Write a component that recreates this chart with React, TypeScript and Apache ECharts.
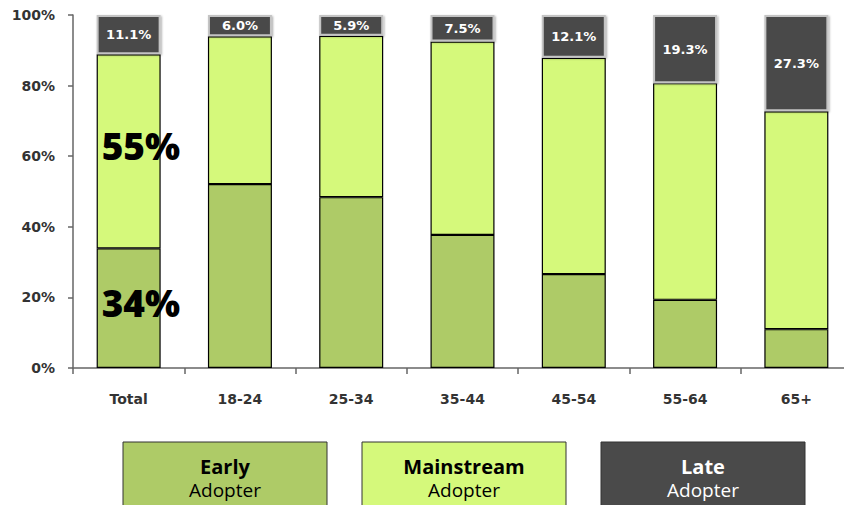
import React, { useEffect, useRef } from "react";
import * as echarts from "echarts";

const categories = ["Total", "18-24", "25-34", "35-44", "45-54", "55-64", "65+"];
const earlyValues = [33.9, 52.1, 48.4, 37.7, 26.6, 19.3, 11.0];
const mainstreamValues = [55.0, 41.9, 45.7, 54.8, 61.3, 61.4, 61.7];
const lateValues = [11.1, 6.0, 5.9, 7.5, 12.1, 19.3, 27.3];
const yTicks = [0, 20, 40, 60, 80, 100];
const legendItems = [
  { title: "Early", sub: "Adopter", color: "#AECB67", text: "#000" },
  { title: "Mainstream", sub: "Adopter", color: "#D5F97B", text: "#000" },
  { title: "Late", sub: "Adopter", color: "#4A4A4A", text: "#fff" },
];

export default function App() {
  const ref = useRef<HTMLDivElement>(null);
  useEffect(() => {
    if (!ref.current) return;
    const chart = echarts.init(ref.current, null, { renderer: "svg" });
    const bigLabel = {
      show: true,
      position: "insideLeft",
      offset: [0, -6],
      fontFamily: "Open Sans",
      fontWeight: 800,
      fontSize: 37,
      color: "#000",
      formatter: (p: any) => Math.round(p.value) + "%",
    };
    const legendGraphics = legendItems.map((it, i) => {
      const x = 123 + i * 239;
      return {
        type: "group",
        children: [
          {
            type: "rect",
            shape: { x, y: 442, width: 204, height: 90 },
            style: { fill: it.color, stroke: "#333", lineWidth: 1 },
          },
          {
            type: "text",
            x: x + 102,
            y: 466,
            style: {
              text: it.title,
              fill: it.text,
              font: "bold 20px 'Open Sans'",
              textAlign: "center",
              textVerticalAlign: "middle",
            },
          },
          {
            type: "text",
            x: x + 102,
            y: 490,
            style: {
              text: it.sub,
              fill: it.text,
              font: "19px 'Open Sans'",
              textAlign: "center",
              textVerticalAlign: "middle",
            },
          },
        ],
      };
    });
    chart.setOption({
      animation: false,
      backgroundColor: "#fff",
      grid: { left: 73, top: 15, width: 784, height: 353, containLabel: false },
      xAxis: {
        type: "category",
        data: categories,
        axisLine: { lineStyle: { color: "#666", width: 1.5 } },
        axisTick: { show: true, length: 6, lineStyle: { color: "#666", width: 1.5 } },
        axisLabel: {
          margin: 24,
          fontFamily: "DejaVu Sans",
          fontWeight: "bold",
          fontSize: 14,
          color: "#333",
        },
      },
      yAxis: {
        type: "value",
        min: yTicks[0],
        max: yTicks[yTicks.length - 1],
        interval: 20,
        splitLine: { show: false },
        axisLine: { show: true, lineStyle: { color: "#666", width: 1.5 } },
        axisTick: { show: true, length: 5, lineStyle: { color: "#666", width: 1.5 } },
        axisLabel: {
          margin: 18,
          formatter: "{value}%",
          fontFamily: "DejaVu Sans",
          fontWeight: "bold",
          fontSize: 14,
          color: "#333",
        },
      },
      series: [
        {
          name: "Early Adopter",
          type: "bar",
          stack: "a",
          barWidth: 64,
          itemStyle: { color: "#AECB67", borderColor: "#000", borderWidth: 1.2 },
          data: earlyValues.map((v, i) => (i === 0 ? { value: v, label: bigLabel } : v)),
        },
        {
          name: "Mainstream Adopter",
          type: "bar",
          stack: "a",
          barWidth: 64,
          itemStyle: { color: "#D5F97B", borderColor: "#000", borderWidth: 1.2 },
          data: mainstreamValues.map((v, i) => (i === 0 ? { value: v, label: bigLabel } : v)),
        },
        {
          name: "Late Adopter",
          type: "bar",
          stack: "a",
          barWidth: 64,
          itemStyle: {
            color: "#4A4A4A",
            borderColor: "#C4C4C4",
            borderWidth: 2,
            shadowColor: "rgba(0,0,0,0.35)",
            shadowBlur: 2,
            shadowOffsetX: 1,
            shadowOffsetY: 1,
          },
          label: {
            show: true,
            position: "inside",
            color: "#fff",
            fontFamily: "DejaVu Sans",
            fontWeight: "bold",
            fontSize: 13,
            formatter: (p: any) => Number(p.value).toFixed(1) + "%",
          },
          data: lateValues,
        },
      ],
      graphic: legendGraphics,
    });
    return () => chart.dispose();
  }, []);
  return <div ref={ref} style={{ width: 852, height: 513, margin: -8 }} />;
}
